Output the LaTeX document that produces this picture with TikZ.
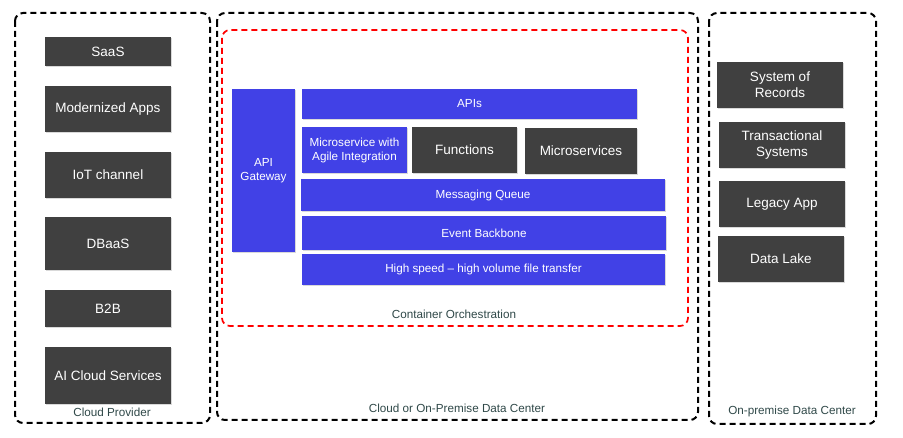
\documentclass[tikz,border=0pt]{standalone}
\usepackage{fontspec}
\setmainfont{Liberation Sans}
\usetikzlibrary{shadows}
\definecolor{boxgray}{HTML}{404040}
\definecolor{boxblue}{HTML}{4141E6}
\definecolor{labelgray}{HTML}{2F4848}

\begin{document}
\begin{tikzpicture}[x=1pt,y=-1pt,
  dk/.style={fill=boxgray,text=white,inner sep=0pt,align=center,
    font=\fontsize{13.5}{16}\selectfont,
    drop shadow={opacity=0.3,shadow xshift=1pt,shadow yshift=-1.5pt}},
  bl/.style={fill=boxblue,text=white,inner sep=0pt,align=center,
    font=\fontsize{11.7}{14}\selectfont,
    drop shadow={opacity=0.3,shadow xshift=1pt,shadow yshift=-1.5pt}},
  zone/.style={draw=black,line width=2pt,dash pattern=on 6pt off 4pt,rounded corners=8pt},
  lbl/.style={text=labelgray,inner sep=0pt,font=\fontsize{11.7}{14}\selectfont}]
\useasboundingbox (0,0) rectangle (903,438);

% zones
\draw[zone] (15,13) rectangle (210,423);
\draw[zone] (217,13) rectangle (698,420);
\draw[zone] (709,13) rectangle (876,424);
\draw[zone,draw=red,line width=1.7pt] (222,30) rectangle (688,326);

% cloud provider
\draw (108,51.5) node[dk,minimum width=126pt,minimum height=29pt](SA) {SaaS};
\draw (108,109) node[dk,minimum width=126pt,minimum height=46pt](MA) {Modernized Apps};
\draw (108,175) node[dk,minimum width=126pt,minimum height=46pt](IO) {IoT channel};
\draw (108,243.5) node[dk,minimum width=126pt,minimum height=53pt](DB) {DBaaS};
\draw (108,308.5) node[dk,minimum width=126pt,minimum height=37pt](BB) {B2B};
\draw (108,375.5) node[dk,minimum width=126pt,minimum height=57pt](AI) {AI Cloud Services};
\draw (112,412) node[lbl](CP) {Cloud Provider};

% data center
\draw (263.5,170.5) node[bl,minimum width=63pt,minimum height=163pt](GW) {API\\Gateway};
\draw (469.5,104) node[bl,minimum width=335pt,minimum height=30pt](AP) {APIs};
\draw (354.5,150) node[bl,minimum width=105pt,minimum height=46pt](AG) {Microservice with\\Agile Integration};
\draw (464.5,150) node[dk,minimum width=105pt,minimum height=46pt](FN) {Functions};
\draw (581,151) node[dk,minimum width=112pt,minimum height=46pt](MS) {Microservices};
\draw (483,195) node[bl,minimum width=364pt,minimum height=32pt](MQ) {Messaging Queue};
\draw (484,233) node[bl,minimum width=364pt,minimum height=34pt](EB) {Event Backbone};
\draw (483.5,269.5) node[bl,minimum width=363pt,minimum height=31pt](FT) {High speed – high volume file transfer};
\draw (454,314) node[lbl](CO) {Container Orchestration};
\draw (457,408) node[lbl](DC) {Cloud or On-Premise Data Center};

% on-premise
\draw (780,85) node[dk,minimum width=126pt,minimum height=46pt](SR) {System of\\Records};
\draw (782,145) node[dk,minimum width=126pt,minimum height=46pt](TS) {Transactional\\Systems};
\draw (782,204) node[dk,minimum width=126pt,minimum height=46pt](LA) {Legacy App};
\draw (781,259) node[dk,minimum width=126pt,minimum height=46pt](DL) {Data Lake};
\draw (792,411) node[lbl](OP) {On-premise Data Center};

\end{tikzpicture}
\end{document}
